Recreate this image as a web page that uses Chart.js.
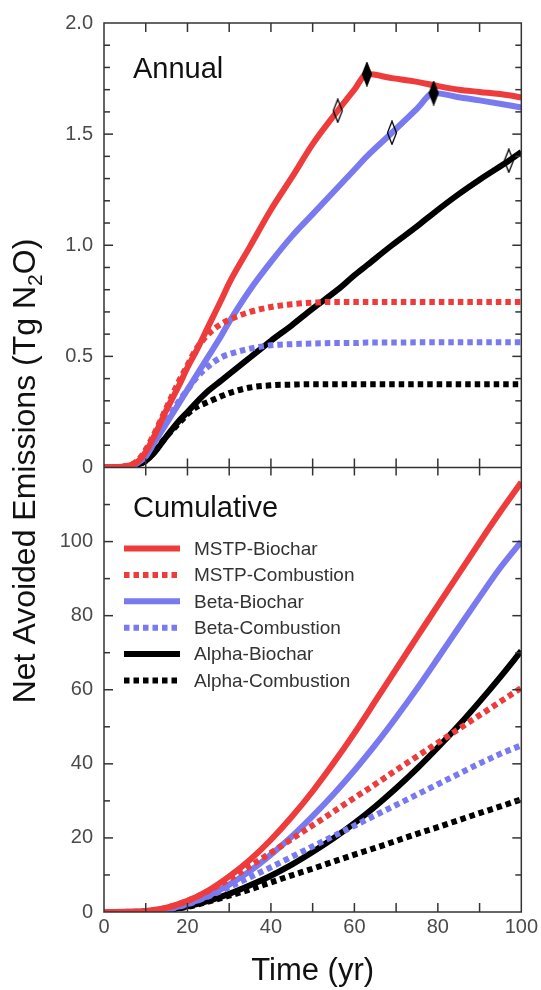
<!DOCTYPE html>
<html>
<head>
<meta charset="utf-8">
<script src="https://cdn.jsdelivr.net/npm/chart.js@4.4.0/dist/chart.umd.min.js"></script>
<style>
  html, body { margin: 0; padding: 0; background: #fff; }
  #wrap { position: relative; width: 541px; height: 990px; }
</style>
</head>
<body>
<div id="wrap"><canvas id="myChart" width="541" height="990"></canvas></div>
<script>
// series names, in legend order
const seriesNames = ["MSTP-Biochar", "MSTP-Combustion", "Beta-Biochar", "Beta-Combustion", "Alpha-Biochar", "Alpha-Combustion"];

// annual panel (Tg N2O per yr)
const annualYears = [0, 5, 8, 10, 12, 15, 18, 20, 22, 25, 28, 30, 35, 40, 45, 50, 56, 60, 63, 69, 75, 79, 85, 90, 97, 100];
const mstpBiocharAnnual = [0, 0.005, 0.025, 0.07, 0.14, 0.26, 0.37, 0.45, 0.52, 0.635, 0.75, 0.83, 0.995, 1.16, 1.305, 1.455, 1.605, 1.70, 1.77, 1.752, 1.735, 1.72, 1.70, 1.69, 1.675, 1.665];
const mstpCombAnnual = [0, 0.005, 0.03, 0.08, 0.15, 0.27, 0.39, 0.46, 0.53, 0.60, 0.645, 0.665, 0.70, 0.722, 0.735, 0.742, 0.745, 0.745, 0.745, 0.745, 0.745, 0.745, 0.745, 0.745, 0.745, 0.745];
const betaBiocharAnnual = [0, 0.004, 0.02, 0.05, 0.11, 0.20, 0.29, 0.35, 0.41, 0.50, 0.59, 0.655, 0.80, 0.925, 1.04, 1.14, 1.26, 1.34, 1.40, 1.506, 1.614, 1.685, 1.666, 1.652, 1.630, 1.620];
const betaCombAnnual = [0, 0.004, 0.02, 0.06, 0.12, 0.21, 0.30, 0.35, 0.40, 0.455, 0.495, 0.51, 0.535, 0.55, 0.555, 0.558, 0.56, 0.56, 0.562, 0.562, 0.563, 0.563, 0.563, 0.563, 0.563, 0.563];
const alphaBiocharAnnual = [0, 0.003, 0.012, 0.03, 0.065, 0.14, 0.21, 0.25, 0.29, 0.345, 0.39, 0.42, 0.495, 0.57, 0.64, 0.715, 0.80, 0.865, 0.91, 1.00, 1.085, 1.145, 1.23, 1.295, 1.38, 1.42];
const alphaCombAnnual = [0, 0.003, 0.012, 0.03, 0.07, 0.14, 0.20, 0.24, 0.27, 0.295, 0.32, 0.335, 0.36, 0.37, 0.373, 0.375, 0.375, 0.375, 0.375, 0.375, 0.375, 0.375, 0.375, 0.375, 0.375, 0.375];

// diamond markers on the annual biochar curves
const filledMarkerYears = [63, 79];
const filledMarkerValues = [1.77, 1.685];
const openMarkerYears = [56, 69, 97];
const openMarkerValues = [1.605, 1.506, 1.38];

// cumulative panel (Tg N2O)
const cumYears = [0, 5, 10, 15, 20, 25, 30, 35, 40, 45, 50, 55, 60, 65, 70, 75, 80, 85, 90, 95, 100];
const mstpBiocharCum = [0, 0.05, 0.3, 1.2, 3.0, 5.8, 9.6, 14.1, 19.5, 25.7, 32.6, 40.2, 48.3, 56.9, 65.6, 74.2, 82.8, 91.3, 99.8, 108.1, 116.0];
const mstpCombCum = [0, 0.03, 0.2, 1.1, 3.0, 5.7, 8.9, 12.4, 16.0, 19.7, 23.4, 27.1, 30.8, 34.5, 38.3, 42.0, 45.7, 49.4, 53.1, 56.8, 60.5];
const betaBiocharCum = [0, 0.03, 0.15, 0.8, 2.2, 4.4, 7.4, 11.1, 15.5, 20.4, 25.9, 31.8, 38.2, 45.1, 52.5, 60.3, 68.5, 76.8, 85.0, 93.0, 100.0];
const betaCombCum = [0, 0.02, 0.1, 0.7, 2.1, 4.2, 6.7, 9.4, 12.1, 14.9, 17.7, 20.5, 23.3, 26.1, 28.9, 31.7, 34.5, 37.3, 40.1, 42.7, 45.0];
const alphaBiocharCum = [0, 0.02, 0.08, 0.5, 1.5, 3.0, 4.9, 7.2, 9.8, 12.8, 16.2, 19.9, 24.0, 28.5, 33.4, 38.7, 44.4, 50.4, 56.8, 63.5, 70.5];
const alphaCombCum = [0, 0.02, 0.06, 0.45, 1.4, 2.8, 4.4, 6.1, 8.0, 9.9, 11.7, 13.6, 15.5, 17.3, 19.2, 21.1, 22.9, 24.8, 26.7, 28.5, 30.4];

// tick labels
const xTicks = [0, 20, 40, 60, 80, 100];
const annualTicks = [0, 0.5, 1.0, 1.5, 2.0];
const cumTicks = [0, 20, 40, 60, 80, 100];

const annualSeries = [mstpBiocharAnnual, mstpCombAnnual, betaBiocharAnnual, betaCombAnnual, alphaBiocharAnnual, alphaCombAnnual];
const cumSeries = [mstpBiocharCum, mstpCombCum, betaBiocharCum, betaCombCum, alphaBiocharCum, alphaCombCum];

const RED = "#ee3b3b";
const BLUE = "#7a7af0";
const BLACK = "#000000";
const colors = [RED, RED, BLUE, BLUE, BLACK, BLACK];
const dotted = [false, true, false, true, false, true];
const DASH = [5.5, 4];
const FONT = "'Liberation Sans', Arial, sans-serif";

const toPoints = (xs, ys) => xs.map((x, i) => ({ x: x, y: ys[i] }));

const diamond = (filled) => {
  const c = document.createElement("canvas");
  c.width = 12;
  c.height = 25;
  const g = c.getContext("2d");
  g.beginPath();
  g.moveTo(6, 1);
  g.lineTo(10.5, 12.5);
  g.lineTo(6, 24);
  g.lineTo(1.5, 12.5);
  g.closePath();
  if (filled) {
    g.fillStyle = "#000";
    g.fill();
  }
  g.strokeStyle = "#000";
  g.lineWidth = 1.3;
  g.stroke();
  return c;
};

const lineSet = (label, xs, ys, i, axis) => ({
  label: label,
  data: toPoints(xs, ys),
  yAxisID: axis,
  borderColor: colors[i],
  borderWidth: 6,
  borderDash: dotted[i] ? DASH : [],
  borderCapStyle: "butt",
  pointRadius: 0,
  cubicInterpolationMode: "monotone",
  fill: false,
});

const datasets = [];
datasets.push({
  label: "peak",
  data: toPoints(filledMarkerYears, filledMarkerValues),
  yAxisID: "yTop",
  showLine: false,
  pointStyle: diamond(true),
  pointRadius: 6,
  order: -2,
});
datasets.push({
  label: "mark",
  data: toPoints(openMarkerYears, openMarkerValues),
  yAxisID: "yTop",
  showLine: false,
  pointStyle: diamond(false),
  pointRadius: 6,
  order: -2,
});
seriesNames.forEach((name, i) => {
  datasets.push(lineSet(name + " annual", annualYears, annualSeries[i], i, "yTop"));
  datasets.push(lineSet(name + " cumulative", cumYears, cumSeries[i], i, "yBot"));
});

const tickFont = { family: FONT, size: 20 };
const tickColor = "#4a4a4a";

// frame, inward ticks, panel labels, legend and axis titles
const framePlugin = {
  id: "frame",
  afterDatasetsDraw(chart) {
    const { ctx, chartArea: a, scales } = chart;
    const xs = scales.x;
    const yt = scales.yTop;
    const yb = scales.yBot;
    const mid = yb.top;
    const seg = (x1, y1, x2, y2) => {
      ctx.beginPath();
      ctx.moveTo(x1, y1);
      ctx.lineTo(x2, y2);
      ctx.stroke();
    };
    ctx.save();
    ctx.strokeStyle = "#333";
    ctx.lineWidth = 1.5;
    ctx.strokeRect(a.left, a.top, a.right - a.left, a.bottom - a.top);
    seg(a.left, mid, a.right, mid);
    for (let t = 10; t < 100; t += 10) {
      const px = xs.getPixelForValue(t);
      seg(px, a.top, px, a.top + 9);
      seg(px, mid - 9, px, mid + 8);
      seg(px, a.bottom, px, a.bottom - 9);
    }
    for (let i = 1; i < 20; i++) {
      const py = yt.getPixelForValue(i / 10);
      const len = i % 5 === 0 ? 9 : 6;
      seg(a.left, py, a.left + len, py);
      seg(a.right, py, a.right - len, py);
    }
    for (let v = 10; v < 120; v += 10) {
      const py = yb.getPixelForValue(v);
      const len = v % 20 === 0 ? 9 : 6;
      seg(a.left, py, a.left + len, py);
      seg(a.right, py, a.right - len, py);
    }

    // panel labels
    ctx.fillStyle = "#111";
    ctx.font = "29px " + FONT;
    ctx.textAlign = "left";
    ctx.textBaseline = "alphabetic";
    ctx.fillText("Annual", 133, 78);
    ctx.fillText("Cumulative", 133, 517);

    // legend
    ctx.font = "19px " + FONT;
    ctx.textBaseline = "middle";
    seriesNames.forEach((name, i) => {
      const y = 548.5 + i * 26.4;
      ctx.strokeStyle = colors[i];
      ctx.lineWidth = 6;
      ctx.lineCap = "butt";
      ctx.setLineDash(dotted[i] ? DASH : []);
      seg(124, y, 180, y);
      ctx.setLineDash([]);
      ctx.fillStyle = "#333";
      ctx.fillText(name, 194, y + 1);
    });

    // axis titles
    ctx.fillStyle = "#111";
    ctx.textBaseline = "alphabetic";
    ctx.font = "31px " + FONT;
    ctx.textAlign = "center";
    ctx.fillText("Time (yr)", (a.left + a.right) / 2, 980);

    ctx.translate(35, 471);
    ctx.rotate(-Math.PI / 2);
    const big = "32px " + FONT;
    const small = "21px " + FONT;
    const p1 = "Net Avoided Emissions (Tg N";
    const p2 = "2";
    const p3 = "O)";
    ctx.font = big;
    const w1 = ctx.measureText(p1).width;
    const w3 = ctx.measureText(p3).width;
    ctx.font = small;
    const w2 = ctx.measureText(p2).width;
    const x0 = -(w1 + w2 + w3) / 2;
    ctx.textAlign = "left";
    ctx.font = big;
    ctx.fillText(p1, x0, 0);
    ctx.font = small;
    ctx.fillText(p2, x0 + w1, 7);
    ctx.font = big;
    ctx.fillText(p3, x0 + w1 + w2, 0);
    ctx.restore();
  },
};

const ctx = document.getElementById("myChart").getContext("2d");
const myChart = new Chart(ctx, {
  type: "line",
  data: { datasets: datasets },
  options: {
    responsive: false,
    animation: false,
    events: [],
    layout: { padding: { top: 20, right: 19, left: 0, bottom: 0 } },
    plugins: { legend: { display: false }, tooltip: { enabled: false } },
    scales: {
      x: {
        type: "linear",
        min: 0,
        max: 100,
        grid: { display: false, drawTicks: false },
        border: { display: false },
        afterBuildTicks: (s) => { s.ticks = xTicks.map((v) => ({ value: v })); },
        ticks: { font: tickFont, color: tickColor, padding: 3, maxRotation: 0 },
        afterFit: (s) => { s.height = 78; },
      },
      yBot: {
        type: "linear",
        position: "left",
        stack: "panels",
        stackWeight: 1,
        min: 0,
        max: 120,
        grid: { display: false, drawTicks: false },
        border: { display: false },
        afterBuildTicks: (s) => { s.ticks = cumTicks.map((v) => ({ value: v })); },
        ticks: { font: tickFont, color: tickColor, padding: 11 },
        afterFit: (s) => { s.width = 104; },
      },
      yTop: {
        type: "linear",
        position: "left",
        stack: "panels",
        stackWeight: 1,
        min: 0,
        max: 2,
        grid: { display: false, drawTicks: false },
        border: { display: false },
        afterBuildTicks: (s) => { s.ticks = annualTicks.map((v) => ({ value: v })); },
        ticks: {
          font: tickFont,
          color: tickColor,
          padding: 11,
          callback: (v) => (v === 0 ? "0" : v.toFixed(1)),
        },
        afterFit: (s) => { s.width = 104; },
      },
    },
  },
  plugins: [framePlugin],
});
</script>
</body>
</html>
